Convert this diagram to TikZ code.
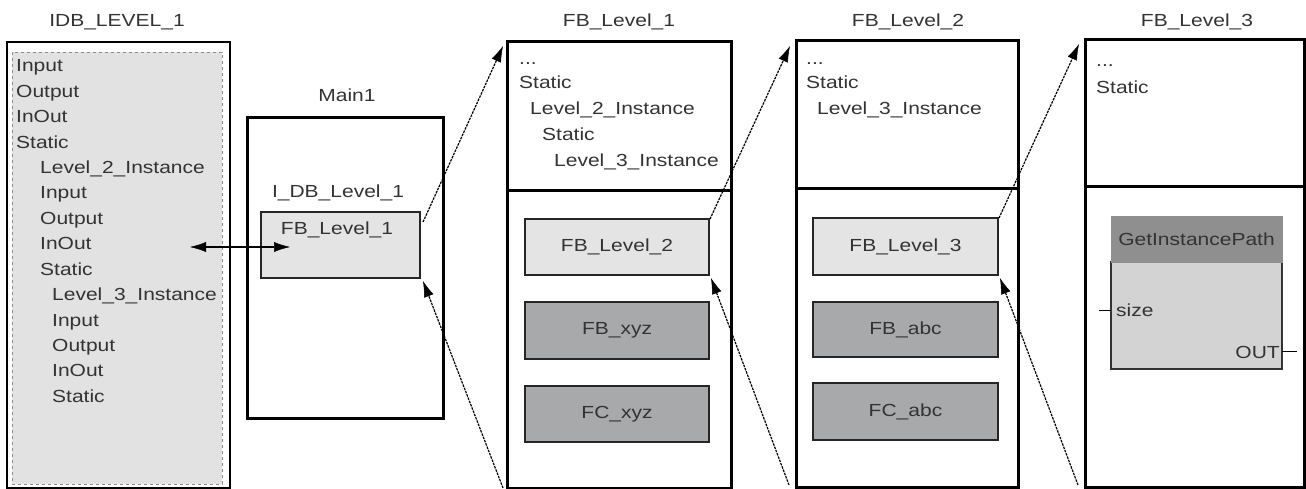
\documentclass[tikz,border=0pt]{standalone}
\usepackage{fontspec}
\setmainfont{Liberation Sans}[FakeStretch=1.2]
\usetikzlibrary{arrows.meta}
\definecolor{txt}{HTML}{333333}
\definecolor{lightfill}{HTML}{E4E4E4}
\definecolor{darkfill}{HTML}{A8A9AB}
\definecolor{idbfill}{HTML}{E2E2E2}
\definecolor{hdrfill}{HTML}{8F8F8F}
\definecolor{bodyfill}{HTML}{D3D3D3}
\newcommand{\fsz}{\fontsize{17.5}{20}\selectfont}
\begin{document}
\begin{tikzpicture}[x=1pt,y=-1pt,
  frame/.style={draw=black, anchor=north west, inner sep=0pt, outer sep=0pt},
  colbox/.style={frame, line width=3pt},
  litebox/.style={frame, line width=1.3pt, draw=black!85, fill=lightfill, text=txt, font=\fsz},
  darkbox/.style={frame, line width=1.3pt, draw=black!85, fill=darkfill, text=txt, font=\fsz},
  lbl/.style={anchor=base west, inner sep=0pt, text=txt, font=\fsz},
  ttl/.style={anchor=base, inner sep=0pt, text=txt, font=\fsz},
  tip/.tip={Latex[length=16pt,width=10pt,line width=0.5pt,fill=black]},
  link/.style={line width=1.2pt, dash pattern=on 2.5pt off 1pt, -tip},
  dbl/.style={line width=1.2pt, tip-tip}
]
\useasboundingbox (0,0) rectangle (1306,489);

% ---------- IDB_LEVEL_1 ----------
\node[ttl] (tidb) at (117,27) {IDB\_LEVEL\_1};
\node[frame, line width=1.6pt, minimum width=223pt, minimum height=446pt] (idb) at (7,42) {};
\node[frame, line width=0.8pt, draw=black!45, dashed, fill=idbfill, minimum width=210pt, minimum height=432pt] (idbin) at (12,52) {};
\node[lbl] (i1) at (16,72) {Input};
\node[lbl] (i2) at (16,97.4) {Output};
\node[lbl] (i3) at (16,122.8) {InOut};
\node[lbl] (i4) at (16,148.2) {Static};
\node[lbl] (i5) at (40,173.6) {Level\_2\_Instance};
\node[lbl] (i6) at (40,199) {Input};
\node[lbl] (i7) at (40,224.4) {Output};
\node[lbl] (i8) at (40,249.8) {InOut};
\node[lbl] (i9) at (40,275.2) {Static};
\node[lbl] (i10) at (52,300.6) {Level\_3\_Instance};
\node[lbl] (i11) at (52,326) {Input};
\node[lbl] (i12) at (52,351.4) {Output};
\node[lbl] (i13) at (52,376.8) {InOut};
\node[lbl] (i14) at (52,402.2) {Static};

% ---------- Main1 ----------
\node[ttl] (tmain) at (347,102) {Main1};
\node[colbox, minimum width=196pt, minimum height=300pt] (main) at (247,118) {};
\node[ttl] (idbl) at (338,197) {I\_DB\_Level\_1};
\node[litebox, minimum width=159pt, minimum height=66pt] (fb1) at (261,212) {};
\node[ttl] (fb1t) at (337,234) {FB\_Level\_1};

\coordinate (cin) at (190,247);
\coordinate (cfb) at (290,247);
\draw[dbl] (cin) -- (cfb);

% ---------- FB_Level_1 ----------
\node[ttl] (t1) at (619,27) {FB\_Level\_1};
\node[colbox, minimum width=224pt, minimum height=149pt] (c1a) at (507,42) {};
\node[colbox, minimum width=224pt, minimum height=297pt] (c1b) at (507,191) {};
\node[lbl] (a1) at (519,65) {...};
\node[lbl] (a2) at (519,89) {Static};
\node[lbl] (a3) at (530,115) {Level\_2\_Instance};
\node[lbl] (a4) at (542,141) {Static};
\node[lbl] (a5) at (554,167) {Level\_3\_Instance};
\node[litebox, minimum width=184pt, minimum height=56pt] (fb2) at (525,219) {FB\_Level\_2};
\node[darkbox, minimum width=184pt, minimum height=57pt] (fbxyz) at (525,302) {FB\_xyz};
\node[darkbox, minimum width=184pt, minimum height=56pt] (fcxyz) at (525,386) {FC\_xyz};

% ---------- FB_Level_2 ----------
\node[ttl] (t2) at (908,27) {FB\_Level\_2};
\node[colbox, minimum width=222pt, minimum height=148pt] (c2a) at (796,41) {};
\node[colbox, minimum width=222pt, minimum height=298pt] (c2b) at (796,189) {};
\node[lbl] (b1) at (806,65) {...};
\node[lbl] (b2) at (806,89) {Static};
\node[lbl] (b3) at (817,115) {Level\_3\_Instance};
\node[litebox, minimum width=185pt, minimum height=57pt] (fb3) at (813,218) {FB\_Level\_3};
\node[darkbox, minimum width=185pt, minimum height=55pt] (fbabc) at (813,302) {FB\_abc};
\node[darkbox, minimum width=185pt, minimum height=57pt] (fcabc) at (813,383) {FC\_abc};

% ---------- FB_Level_3 ----------
\node[ttl] (t3) at (1197,27) {FB\_Level\_3};
\node[colbox, minimum width=219pt, minimum height=147pt] (c3a) at (1085,40) {};
\node[colbox, minimum width=219pt, minimum height=300pt] (c3b) at (1085,187) {};
\node[lbl] (d1) at (1096,67) {...};
\node[lbl] (d2) at (1096,94) {Static};
\node[frame, line width=1.2pt, draw=black!80, fill=bodyfill, minimum width=171pt, minimum height=107pt] (gipb) at (1111,262) {};
\node[frame, line width=0pt, draw=hdrfill, fill=hdrfill, minimum width=171pt, minimum height=45pt, text=txt, font=\fsz] (giph) at (1111,217) {GetInstancePath};
\node[lbl] (size) at (1116,316) {size};
\node[anchor=base east, inner sep=0pt, text=txt, font=\fsz] (out) at (1280,358) {OUT};
\coordinate (sizeL) at (1099,310);
\coordinate (outR) at (1297,351);
\draw[line width=1pt] (sizeL) -- (sizeL -| gipb.west);
\draw[line width=1pt] (outR -| gipb.east) -- (outR);

% ---------- connectors ----------
\draw[link] ([shift={(3,10)}]fb1.north east) -- ([shift={(-4,4)}]c1a.north west);
\draw[link] ([shift={(-4,0)}]c1b.south west) -- ([shift={(3,3)}]fb1.south east);
\draw[link] ([shift={(1,0)}]fb2.north east) -- ([shift={(-6,5)}]c2a.north west);
\draw[link] ([shift={(-7,-2)}]c2b.south west) -- ([shift={(2,3)}]fb2.south east);
\draw[link] ([shift={(1,0)}]fb3.north east) -- ([shift={(-6,4)}]c3a.north west);
\draw[link] ([shift={(-7,-2)}]c3b.south west) -- ([shift={(2,3)}]fb3.south east);
\end{tikzpicture}
\end{document}
